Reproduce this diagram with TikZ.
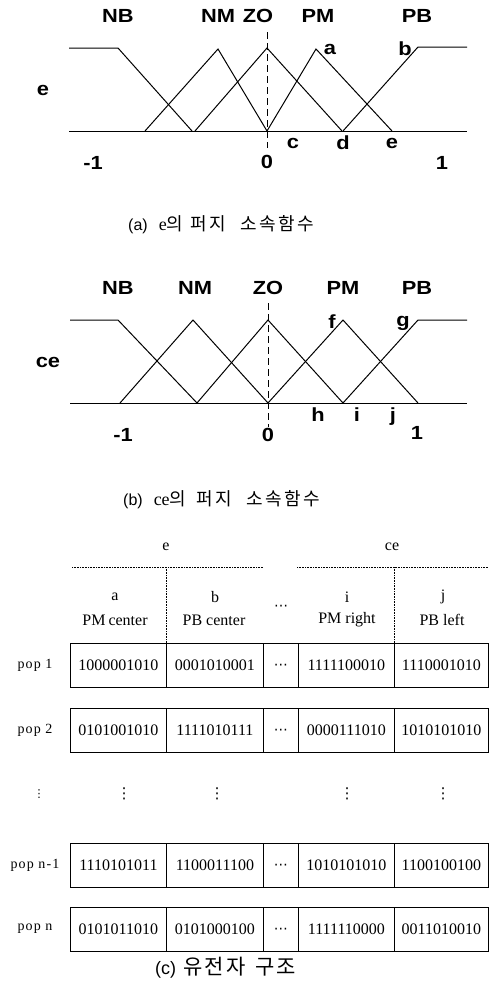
\documentclass[tikz,border=0pt]{standalone}
\usepackage{fontspec}
\setmainfont{Liberation Serif}
\setsansfont{Liberation Sans}
\newfontfamily\plotfont[FakeStretch=1.15]{Liberation Sans}
\newfontfamily\krfont[LetterSpace=15]{Noto Sans CJK KR}
\newfontfamily\krfontc[LetterSpace=10]{Noto Sans CJK KR}
\newfontfamily\popfont[LetterSpace=8]{Liberation Serif}
\newfontfamily\symfont{DejaVu Sans}
\newcommand{\middots}{\raisebox{-4.5pt}[0pt][0pt]{⋯}}
\begin{document}
\begin{tikzpicture}[x=1pt,y=-1pt,
  mf/.style={line width=1pt, line join=miter},
  baseln/.style={line width=1pt},
  zeroln/.style={line width=1pt, dash pattern=on 7pt off 4pt},
  lbl/.style={font=\plotfont\bfseries\fontsize{19}{19}\selectfont, inner sep=0pt},
  capt/.style={font=\fontsize{18}{18}\selectfont, inner sep=0pt, anchor=west},
  cell/.style={draw, line width=0.8pt, minimum height=44pt, inner sep=0pt,
               font=\fontsize{16}{16}\selectfont, anchor=north west},
  tx/.style={font=\fontsize{16}{16}\selectfont, inner sep=0pt},
  poplbl/.style={font=\popfont\fontsize{14}{14}\selectfont, inner sep=0pt},
  guide/.style={line width=0.6pt, densely dotted},
  vdot/.style={font=\symfont\fontsize{15}{15}\selectfont, inner sep=0pt},
]
\useasboundingbox (0,0) rectangle (489,985);

% ---------------- (a) membership functions of e ----------------
\draw[baseln] (69,131) -- (467,131);
\draw[mf] (69,48) -- (118,48) -- (192,131);          % NB
\draw[mf] (145,131) -- (218,49) -- (267,131);        % NM
\draw[mf] (195,131) -- (267,48) -- (342,131);        % ZO
\draw[mf] (267,131) -- (316,49) -- (392,131);        % PM
\draw[mf] (343,131) -- (418,47) -- (467,47);         % PB
\draw[zeroln] (267,32) -- (267,148);

\node[lbl] (aNB) at (118,16) {NB};
\node[lbl] (aNM) at (218,16) {NM};
\node[lbl] (aZO) at (258,16) {ZO};
\node[lbl] (aPM) at (318,16) {PM};
\node[lbl] (aPB) at (417,16) {PB};
\node[lbl] (aE) at (43,90) {e};
\node[lbl] (pa) at (330,49) {a};
\node[lbl] (pb) at (405,49) {b};
\node[lbl] (pc) at (293,143) {c};
\node[lbl] (pd) at (343,143) {d};
\node[lbl] (pe) at (392,143) {e};
\node[lbl] (aM1) at (93,163) {-1};
\node[lbl] (aZ) at (267,162) {0};
\node[lbl] (aP1) at (442,163) {1};

\node[capt] (capA) at (128,225) {{\sffamily\fontsize{16}{16}\selectfont (a)}\hspace{11pt}e{\krfont 의}\hspace{7pt}{\krfont 퍼지}\hspace{14pt}{\krfont 소속함수}};

% ---------------- (b) membership functions of ce ----------------
\draw[baseln] (70,403) -- (467,403);
\draw[mf] (70,320) -- (118,320) -- (197,403);        % NB
\draw[mf] (120,403) -- (193,320) -- (268,403);       % NM
\draw[mf] (197,403) -- (268,320) -- (343,403);       % ZO
\draw[mf] (268,403) -- (343,320) -- (418,403);       % PM
\draw[mf] (343,403) -- (418,320) -- (467,320);       % PB
\draw[zeroln] (268,303) -- (268,427);

\node[lbl] (bNB) at (118,288) {NB};
\node[lbl] (bNM) at (195,288) {NM};
\node[lbl] (bZO) at (268,288) {ZO};
\node[lbl] (bPM) at (343,288) {PM};
\node[lbl] (bPB) at (417,288) {PB};
\node[lbl] (bCE) at (48,362) {ce};
\node[lbl] (pf) at (332,322) {f};
\node[lbl] (pg) at (403,323) {g};
\node[lbl] (ph) at (318,415) {h};
\node[lbl] (pi) at (357,415) {i};
\node[lbl] (pj) at (393,417) {j};
\node[lbl] (bM1) at (123,435) {-1};
\node[lbl] (bZ) at (268,435) {0};
\node[lbl] (bP1) at (417,433) {1};

\node[capt] (capB) at (123,500) {{\sffamily\fontsize{16}{16}\selectfont (b)}\hspace{11pt}ce{\krfont 의}\hspace{10pt}{\krfont 퍼지}\hspace{14pt}{\krfont 소속함수}};

% ---------------- (c) chromosome structure ----------------
\node[tx] (hE) at (166,547) {e};
\node[tx] (hCE) at (392,547) {ce};
\draw[guide] (72,567) -- (263,567);
\draw[guide] (297,567) -- (489,567);
\draw[guide] (166,567) -- (166,643);
\draw[guide] (394,567) -- (394,643);

\node[tx] (ha) at (115,597) {a};
\node[tx] (hb) at (215,597) {b};
\node[tx] (hi) at (347,597) {i};
\node[tx] (hj) at (443,597) {j};
\node[vdot, font=\symfont\fontsize{14}{14}\selectfont] (hdots) at (281,606) {\middots};
\node[tx] (ga) at (115,620) {PM\hspace{3pt}center};
\node[tx] (gb) at (214,620) {PB center};
\node[tx] (gi) at (347,620) {PM right};
\node[tx] (gj) at (442,620) {PB left};

\foreach \r/\yt/\lab/\ca/\cb/\cc/\cd in {
  1/643/{pop 1}/1000001010/0001010001/1111100010/1110001010,
  2/708/{pop 2}/0101001010/1111010111/0000111010/1010101010,
  3/843/{pop n-1}/1110101011/1100011100/1010101010/1100100100,
  4/907/{pop n}/0101011010/0101000100/1111110000/0011010010}{
  \node[cell, minimum width=96pt] (r\r a) at (70,\yt) {\ca};
  \node[cell, minimum width=97pt] (r\r b) at (166,\yt) {\cb};
  \node[cell, minimum width=35pt, font=\symfont\fontsize{14}{14}\selectfont] (r\r x) at (263,\yt) {\middots};
  \node[cell, minimum width=96pt] (r\r c) at (298,\yt) {\cc};
  \node[cell, minimum width=94pt] (r\r d) at (394,\yt) {\cd};
  \node[poplbl] (p\r) at (35,\yt+22) {\lab};
}

\node[vdot, font=\symfont\fontsize{11}{11}\selectfont] (v0) at (39,794) {⋮};
\node[vdot] (v1) at (124,794) {⋮};
\node[vdot] (v2) at (217,794) {⋮};
\node[vdot] (v3) at (347,794) {⋮};
\node[vdot] (v4) at (443,794) {⋮};

\node[capt] (capC) at (155,968) {{\sffamily\fontsize{18}{18}\selectfont (c)}\hspace{7pt}{\krfontc\fontsize{21}{21}\selectfont 유전자}\hspace{10pt}{\krfontc\fontsize{21}{21}\selectfont 구조}};
\end{tikzpicture}
\end{document}
